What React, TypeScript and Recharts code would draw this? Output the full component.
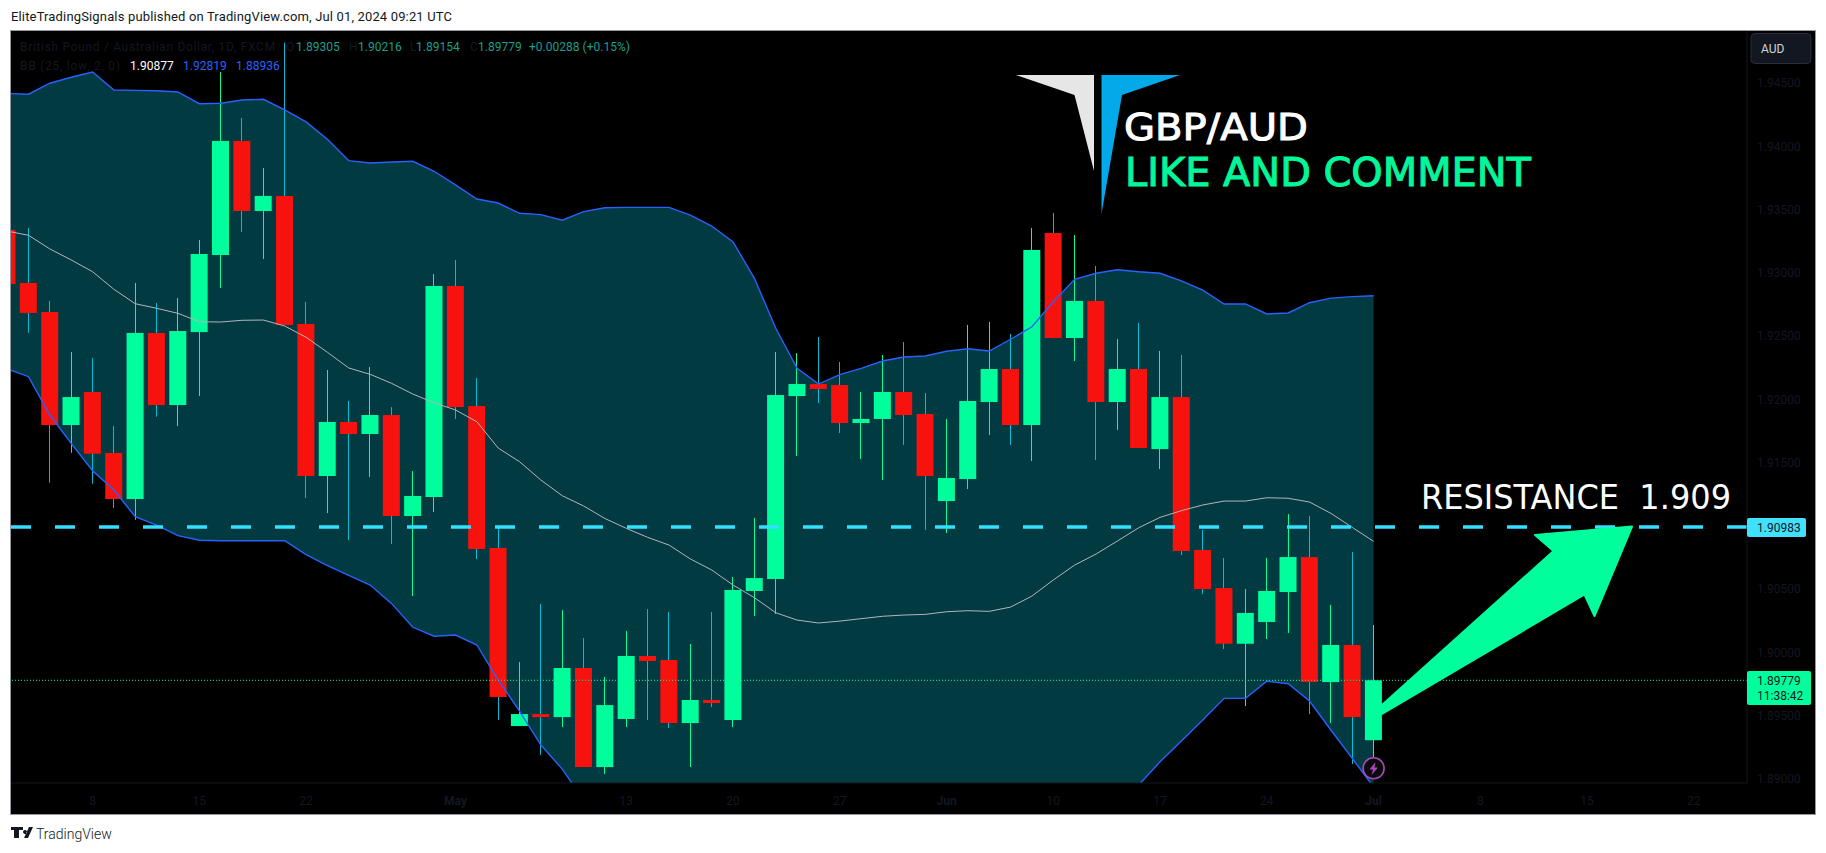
import { Area, Bar, ComposedChart, Line, ReferenceLine, XAxis, YAxis } from "recharts";

// daily GBP/AUD candles, first one is cut off by the left edge of the pane
const firstSlot = -1;
const opens = [
  1.93339, 1.9292, 1.92691, 1.91797, 1.92058, 1.91576, 1.91212, 1.92525, 1.91955, 1.92532, 1.93141, 1.94043, 1.93489,
  1.93608, 1.92596, 1.91394, 1.91821, 1.91726, 1.91876, 1.91078, 1.91228, 1.92896, 1.91947, 1.90825, 1.89417, 1.89512,
  1.89488, 1.89876, 1.89093, 1.89473, 1.89971, 1.89939, 1.89441, 1.89623, 1.89465, 1.90485, 1.9058, 1.92026, 1.92121,
  1.92113, 1.91813, 1.91845, 1.92058, 1.91884, 1.91196, 1.9137, 1.91979, 1.9224, 1.91797, 1.93315, 1.92485, 1.92778,
  1.91979, 1.9224, 1.91607, 1.92018, 1.90809, 1.90508, 1.90068, 1.9024, 1.90477, 1.90753, 1.89765, 1.90058, 1.89305,
];
const closes = [
  1.92912, 1.92683, 1.91797, 1.92018, 1.9157, 1.91212, 1.92525, 1.91955, 1.9254, 1.93149, 1.94043, 1.93489, 1.93608,
  1.92588, 1.91394, 1.91821, 1.91726, 1.91876, 1.91078, 1.91236, 1.92896, 1.91939, 1.90817, 1.89647, 1.89512, 1.89488,
  1.89876, 1.89093, 1.89583, 1.89971, 1.89931, 1.89441, 1.89623, 1.89599, 1.90493, 1.90587, 1.92034, 1.92121, 1.92082,
  1.91813, 1.91845, 1.92058, 1.91876, 1.91394, 1.91378, 1.91987, 1.9224, 1.91797, 1.93181, 1.92485, 1.92778, 1.91979,
  1.9224, 1.91615, 1.92018, 1.90801, 1.905, 1.90068, 1.90311, 1.90485, 1.90753, 1.89765, 1.90058, 1.89488, 1.89779,
];
const highs = [
  1.93378, 1.93355, 1.92778, 1.92374, 1.92327, 1.91789, 1.9292, 1.92762, 1.92801, 1.9326, 1.94588, 1.94224, 1.93829,
  1.9482, 1.9277, 1.92232, 1.91987, 1.92256, 1.91939, 1.91433, 1.92991, 1.93102, 1.92169, 1.90999, 1.89923, 1.90382,
  1.90334, 1.90113, 1.89805, 1.90168, 1.90342, 1.90319, 1.90066, 1.90319, 1.90595, 1.91062, 1.92374, 1.92366, 1.92493,
  1.92295, 1.92058, 1.92351, 1.92453, 1.9205, 1.91845, 1.92588, 1.92611, 1.92517, 1.93355, 1.93473, 1.93299, 1.93054,
  1.92477, 1.92604, 1.92382, 1.92351, 1.90967, 1.90746, 1.905, 1.90746, 1.91093, 1.91078, 1.90374, 1.90793, 1.90216,
];
const lows = [
  1.92912, 1.92527, 1.91341, 1.91578, 1.91333, 1.91141, 1.91048, 1.91863, 1.91789, 1.92026, 1.9288, 1.93323, 1.9311,
  1.92588, 1.9122, 1.91101, 1.90888, 1.91386, 1.90856, 1.90445, 1.91109, 1.91845, 1.90738, 1.89465, 1.89417, 1.89188,
  1.89409, 1.89093, 1.89038, 1.89409, 1.89465, 1.89401, 1.89093, 1.89568, 1.89409, 1.90287, 1.90303, 1.91552, 1.91971,
  1.91734, 1.91528, 1.91362, 1.91639, 1.90967, 1.90943, 1.91291, 1.91718, 1.91639, 1.91512, 1.92485, 1.92303, 1.9152,
  1.91758, 1.91615, 1.91449, 1.90769, 1.90461, 1.90026, 1.89575, 1.90105, 1.90153, 1.89512, 1.89441, 1.89117, 1.89154,
];

// Bollinger bands; the lower band drops under the pane from mid May to mid June
const bbUpper = [
  1.94418, 1.94412, 1.94499, 1.94546, 1.94588, 1.94446, 1.94443, 1.9444, 1.9443, 1.94337, 1.94341, 1.94367, 1.94372,
  1.94288, 1.94193, 1.94056, 1.93887, 1.93869, 1.93876, 1.93882, 1.93803, 1.93695, 1.93584, 1.93552, 1.93471, 1.9346,
  1.93416, 1.93484, 1.93515, 1.93518, 1.93518, 1.93518, 1.93457, 1.9337, 1.93244, 1.92957, 1.92562, 1.92245, 1.92121,
  1.92195, 1.92245, 1.92303, 1.92335, 1.92343, 1.9238, 1.924, 1.92382, 1.92475, 1.92574, 1.92772, 1.92949, 1.92997,
  1.93025, 1.93009, 1.92997, 1.92936, 1.92864, 1.92754, 1.92754, 1.92675, 1.92683, 1.92764, 1.928, 1.92812, 1.92819,
];
const bbBasis = [
  1.9333, 1.93297, 1.93189, 1.93102, 1.93009, 1.9287, 1.92756, 1.9272, 1.9268, 1.92614, 1.92611, 1.92625, 1.92627,
  1.9258, 1.92491, 1.92372, 1.92248, 1.92198, 1.92127, 1.92042, 1.91973, 1.91916, 1.91823, 1.91615, 1.91507, 1.91362,
  1.91238, 1.91157, 1.91058, 1.9098, 1.90909, 1.90848, 1.90738, 1.90651, 1.90532, 1.90432, 1.90313, 1.90255, 1.90232,
  1.90247, 1.90266, 1.90285, 1.90295, 1.903, 1.90321, 1.90329, 1.90324, 1.90358, 1.90445, 1.90572, 1.9069, 1.90777,
  1.9088, 1.90985, 1.91067, 1.9112, 1.91165, 1.91196, 1.91196, 1.91222, 1.91218, 1.91188, 1.91099, 1.90988, 1.90877,
];
const bbLower = [
  1.92242, 1.92179, 1.91876, 1.91652, 1.91436, 1.91283, 1.91072, 1.91006, 1.90922, 1.90886, 1.90882, 1.90882, 1.90882,
  1.90882, 1.90772, 1.90685, 1.90609, 1.90532, 1.90387, 1.90198, 1.90127, 1.90137, 1.90058, 1.89781, 1.89536, 1.89267,
  1.89077, 1.88832, 1.887, 1.886, 1.8852, 1.8846, 1.8841, 1.8838, 1.8832, 1.8828, 1.8828, 1.8832, 1.8834, 1.8836,
  1.8838, 1.884, 1.8841, 1.8841, 1.8842, 1.8842, 1.8843, 1.8845, 1.885, 1.8858, 1.8868, 1.8878, 1.8888, 1.88951,
  1.89135, 1.89299, 1.89465, 1.89636, 1.89636, 1.89771, 1.89752, 1.89615, 1.89386, 1.89162, 1.88936,
];

const priceTicks = [1.89, 1.895, 1.9, 1.905, 1.91, 1.915, 1.92, 1.925, 1.93, 1.935, 1.94, 1.945];
const dateTickSlots = [3, 8, 13, 20, 28, 33, 38, 43, 48, 53, 58, 63, 68, 73, 78];
const dateTickLabels = ["8", "15", "22", "May", "13", "20", "27", "Jun", "10", "17", "24", "Jul", "8", "15", "22"];
const boldDateLabels = ["May", "Jun", "Jul"];

const resistance = 1.9099;
const lastPrice = 1.89779;

const rows = opens.map((open, i) => ({
  slot: firstSlot + i,
  open,
  close: closes[i],
  high: highs[i],
  low: lows[i],
  upper: bbUpper[i],
  basis: bbBasis[i],
  lower: bbLower[i],
}));

const UP = "#00ff9c";
const DOWN = "#f7120d";
const DOWN_WICK = "#00bcd4";
const FAINT = "#131722";
const TEAL = "#1e9e8c";
const FONT = "Roboto, sans-serif";
const HEAD_FONT = "'DejaVu Sans', sans-serif";

function Candle(props: any) {
  const { x, y, width, height, payload } = props;
  const up = payload.close >= payload.open;
  const pxPerPrice = height / (payload.high - payload.low);
  const bodyTop = y + (payload.high - Math.max(payload.open, payload.close)) * pxPerPrice;
  const bodyH = Math.abs(payload.open - payload.close) * pxPerPrice;
  const mid = Math.floor(x + width / 2) + 0.5;
  return (
    <g>
      <line x1={mid} x2={mid} y1={y} y2={y + height} stroke={up ? UP : DOWN_WICK} strokeWidth={1} />
      <rect x={x} y={bodyTop} width={width} height={Math.max(bodyH, 1)} fill={up ? UP : DOWN} />
    </g>
  );
}

function DateTick(props: any) {
  const { x, y, payload } = props;
  const label = dateTickLabels[dateTickSlots.indexOf(payload.value)];
  return (
    <text
      x={x}
      y={y + 20}
      textAnchor="middle"
      fontFamily={FONT}
      fontSize={12}
      fontWeight={boldDateLabels.includes(label) ? 700 : 400}
      fill={FAINT}
    >
      {label}
    </text>
  );
}

// logo, headline, arrow, legend and price tags that sit on top of the pane
function Overlay() {
  return (
    <svg width={1826} height={853} style={{ position: "absolute", left: 0, top: 0, pointerEvents: "none" }}>
      <text x={11} y={21} fontFamily={FONT} fontSize={13} fill="#131722" textLength={441}>
        EliteTradingSignals published on TradingView.com, Jul 01, 2024 09:21 UTC
      </text>

      <g fontFamily={FONT} fontSize={12} fill={FAINT}>
        <text x={20} y={51} textLength={255}>British Pound / Australian Dollar, 1D, FXCM</text>
        <text x={286} y={51}>O</text>
        <text x={296} y={51} fill={TEAL}>1.89305</text>
        <text x={349} y={51}>H</text>
        <text x={358} y={51} fill={TEAL}>1.90216</text>
        <text x={410} y={51}>L</text>
        <text x={416} y={51} fill={TEAL}>1.89154</text>
        <text x={470} y={51}>C</text>
        <text x={478} y={51} fill={TEAL}>1.89779</text>
        <text x={529} y={51} fill={TEAL} textLength={101}>+0.00288 (+0.15%)</text>
        <text x={20} y={70} textLength={100}>BB (25, low, 2, 0)</text>
        <text x={130} y={70} fill="#ffffff">1.90877</text>
        <text x={183} y={70} fill="#2962ff">1.92819</text>
        <text x={236} y={70} fill="#2962ff">1.88936</text>
      </g>

      <polygon points="1016,75 1094,75 1094,171 1074.5,95" fill="#e6e6e6" />
      <polygon points="1101.5,75 1180,75 1122,95 1101.5,214" fill="#03a9e8" />
      <text x={1124} y={140} fontFamily={HEAD_FONT} fontSize={37.5} fill="#ffffff" stroke="#ffffff" strokeWidth={1} textLength={184} lengthAdjust="spacingAndGlyphs">
        GBP/AUD
      </text>
      <text x={1125} y={186} fontFamily={HEAD_FONT} fontSize={39.5} fill="#00f79a" stroke="#00f79a" strokeWidth={1} textLength={406} lengthAdjust="spacingAndGlyphs">
        LIKE AND COMMENT
      </text>
      <text x={1421} y={509} fontFamily={HEAD_FONT} fontSize={33} fill="#ffffff" textLength={310} lengthAdjust="spacingAndGlyphs" xmlSpace="preserve">
        RESISTANCE  1.909
      </text>

      <polygon
        points="1382,705 1553.5,551 1535,535 1632,526.5 1594.5,616 1584.5,594.5 1382,714"
        fill={UP}
        stroke={UP}
        strokeWidth={2}
        strokeLinejoin="round"
      />

      <circle cx={1373.6} cy={768.3} r={10.5} fill="#0a0a0a" stroke="#ab47bc" strokeWidth={1.6} />
      <polygon points="1375.5,762 1369.5,769.5 1373,769.5 1371.5,775 1378,767.5 1374.5,767.5" fill="#ab47bc" />

      <rect x={1751} y={33.5} width={60} height={30} rx={4} fill="#131722" stroke="#2a2e39" />
      <text x={1761} y={52.5} fontFamily={FONT} fontSize={12} fill="#d1d4dc">AUD</text>

      <rect x={1747} y={518} width={59} height={19} rx={2} fill="#40e0ff" />
      <text x={1757} y={532} fontFamily={FONT} fontSize={12} fill="#131722">1.90983</text>

      <rect x={1747} y={671} width={64} height={34} rx={2} fill={UP} />
      <text x={1757} y={685} fontFamily={FONT} fontSize={12} fill="#131722">1.89779</text>
      <text x={1757} y={700} fontFamily={FONT} fontSize={12} fill="#131722">11:38:42</text>

      <path d="M11 827h12v3h-4v8h-5v-8h-3z M24 838l5-11h4l-5 11z M25 830a2 2 0 1 0 .1 0z" fill="#131722" />
      <text x={36} y={839} fontFamily={FONT} fontSize={14} fontWeight={300} fill="#131722">TradingView</text>
    </svg>
  );
}

export default function App() {
  return (
    <div style={{ position: "absolute", left: 0, top: 0, width: 1826, height: 853, background: "#ffffff" }}>
      <div
        style={{
          position: "absolute",
          left: 10,
          top: 30,
          width: 1804,
          height: 783,
          background: "#000000",
          border: "1px solid #9598a1",
        }}
      />
      <div style={{ position: "absolute", left: 0, top: 0 }}>
        <ComposedChart width={1826} height={853} data={rows} margin={{ top: 31, right: 11, bottom: 40, left: 11 }}>
          <XAxis
            dataKey="slot"
            type="number"
            domain={[-0.82, 80.49]}
            allowDataOverflow
            ticks={dateTickSlots}
            interval={0}
            height={30}
            tick={<DateTick />}
            tickSize={0}
            tickLine={false}
            axisLine={{ stroke: "#14161c" }}
          />
          <YAxis
            orientation="right"
            type="number"
            domain={[1.88967, 1.94912]}
            allowDataOverflow
            ticks={priceTicks}
            interval={0}
            width={68}
            tickFormatter={(v: number) => v.toFixed(5)}
            tick={{ fill: FAINT, fontSize: 12, fontFamily: FONT, textAnchor: "start" }}
            tickSize={0}
            tickMargin={10}
            tickLine={false}
            axisLine={{ stroke: "#14161c" }}
          />
          <Area
            dataKey={(d: any) => [d.lower, d.upper]}
            type="linear"
            stroke="none"
            fill="#023a42"
            fillOpacity={1}
            dot={false}
            activeDot={false}
            isAnimationActive={false}
          />
          <Line dataKey="upper" type="linear" stroke="#2962ff" strokeWidth={1.4} dot={false} isAnimationActive={false} />
          <Line dataKey="lower" type="linear" stroke="#2962ff" strokeWidth={1.4} dot={false} isAnimationActive={false} />
          <Line dataKey="basis" type="linear" stroke="#b2b5be" strokeWidth={1} dot={false} isAnimationActive={false} />
          <ReferenceLine y={lastPrice} stroke={UP} strokeDasharray="1 2" strokeWidth={1} />
          <Bar
            dataKey={(d: any) => [d.low, d.high]}
            barSize={17}
            shape={<Candle />}
            isAnimationActive={false}
          />
          <ReferenceLine y={resistance} stroke="#33e0ff" strokeDasharray="20 24" strokeWidth={3.5} />
        </ComposedChart>
      </div>
      <Overlay />
    </div>
  );
}
